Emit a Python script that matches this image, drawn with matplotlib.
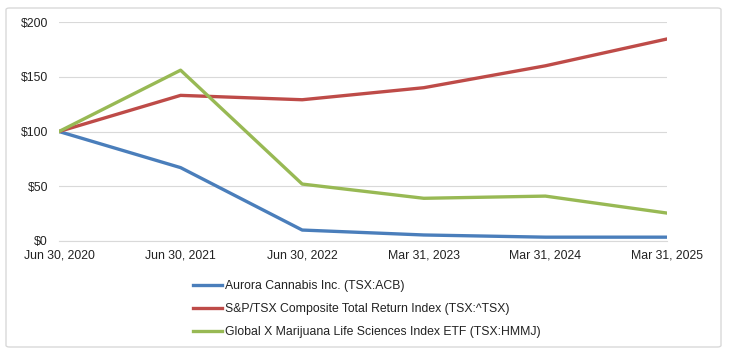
import matplotlib
matplotlib.use("Agg")
from matplotlib import pyplot as plt
from matplotlib.patches import FancyBboxPatch
import numpy as np

dates = ["Jun 30, 2020", "Jun 30, 2021", "Jun 30, 2022",
         "Mar 31, 2023", "Mar 31, 2024", "Mar 31, 2025"]
aurora = [100, 67, 10, 5.5, 3.5, 3.5]
tsx = [100, 133, 129, 140, 160, 184.5]
hmmj = [100, 156, 52, 39, 41, 25.5]
yticks = [0, 50, 100, 150, 200]

plt.rcParams['font.family'] = ['Liberation Sans', 'DejaVu Sans']

fig = plt.figure(figsize=(7.29, 3.53), dpi=100)
border = FancyBboxPatch((6 / 729, 6 / 353), 715 / 729, 339 / 353,
                        boxstyle="round,pad=0,rounding_size=0.005",
                        transform=fig.transFigure, facecolor="none",
                        edgecolor="#D9D9D9", linewidth=1.0, zorder=-1)
fig.patches.append(border)

ax = fig.add_axes([59 / 729, 112 / 353, 608 / 729, 219 / 353])
x = np.arange(len(dates))
ax.plot(x, aurora, color="#4A7EBB", lw=2.4, label="Aurora Cannabis Inc. (TSX:ACB)")
ax.plot(x, tsx, color="#BE4B48", lw=2.4, label="S&P/TSX Composite Total Return Index (TSX:^TSX)")
ax.plot(x, hmmj, color="#98B954", lw=2.4, label="Global X Marijuana Life Sciences Index ETF (TSX:HMMJ)")

ax.set_xlim(0, len(dates) - 1)
ax.set_ylim(0, 200)
ax.set_xticks(x)
ax.set_xticklabels(dates)
ax.set_yticks(yticks)
ax.set_yticklabels(["$%d" % v for v in yticks])
ax.tick_params(length=0, labelsize=8.8, colors="#222222")
ax.tick_params(axis="x", pad=6)
ax.tick_params(axis="y", pad=8)
ax.grid(axis="y", color="#D9D9D9", lw=0.8)
ax.set_axisbelow(True)
for s in ["top", "right", "left"]:
    ax.spines[s].set_visible(False)
ax.spines["bottom"].set_color("#D9D9D9")
ax.patch.set_alpha(0)

fig.legend(loc="upper left", bbox_to_anchor=(182 / 729, 1 - 269 / 353),
           frameon=False, fontsize=8.8, handlelength=2.4, handletextpad=0.2,
           labelspacing=0.9, labelcolor="#222222")

fig.savefig("out.png", dpi=100)
